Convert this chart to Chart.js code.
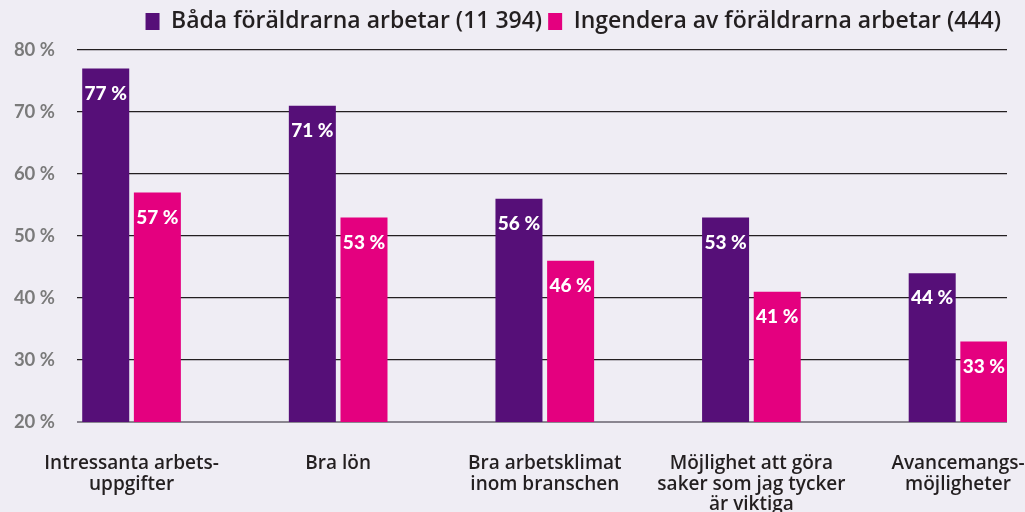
<!DOCTYPE html>
<html>
<head>
<meta charset="utf-8">
<script src="https://cdn.jsdelivr.net/npm/chart.js@4/dist/chart.umd.min.js"></script>
<style>
  html, body { margin: 0; padding: 0; background: #efedf4; }
  canvas { display: block; }
</style>
</head>
<body>
<canvas id="myChart" width="1025" height="512"></canvas>
<script>
// kategorier (x-axel), radbrytningar som i originalet
let categories = [
  ['Intressanta arbets-', 'uppgifter'],
  ['Bra lön'],
  ['Bra arbetsklimat', 'inom branschen'],
  ['Möjlighet att göra', 'saker som jag tycker', 'är viktiga'],
  ['Avancemangs-', 'möjligheter']
];
let seriesNames = ['Båda föräldrarna arbetar (11 394)', 'Ingendera av föräldrarna arbetar (444)'];
let bothWork = [77, 71, 56, 53, 44];
let neitherWork = [57, 53, 46, 41, 33];
let yTicks = [20, 30, 40, 50, 60, 70, 80];

const purple = '#560f78';
const pink = '#e4007f';
const fontFamily = 'Lato, "Open Sans", sans-serif';
const labelFamily = '"Open Sans", Lato, sans-serif';

// bakgrund
const bgPlugin = {
  id: 'bg',
  beforeDraw(chart) {
    const ctx = chart.ctx;
    ctx.save();
    ctx.fillStyle = '#efedf4';
    ctx.fillRect(0, 0, chart.width, chart.height);
    ctx.restore();
  }
};

// lite extra luft under legenden
const legendMargin = {
  id: 'legendMargin',
  beforeInit(chart) {
    const fit = chart.legend.fit;
    chart.legend.fit = function () {
      fit.bind(chart.legend)();
      this.height += 7;
    };
  }
};

// procentetiketter inne i staplarna
const valueLabels = {
  id: 'valueLabels',
  afterDatasetsDraw(chart) {
    const ctx = chart.ctx;
    ctx.save();
    ctx.fillStyle = '#ffffff';
    ctx.font = '900 19px ' + fontFamily;
    ctx.textAlign = 'center';
    ctx.textBaseline = 'middle';
    chart.data.datasets.forEach((ds, i) => {
      chart.getDatasetMeta(i).data.forEach((bar, j) => {
        ctx.fillText(ds.data[j].y + ' %', bar.x, bar.y + 25);
      });
    });
    ctx.restore();
  }
};

function toPoints(values) {
  return values.map((v, i) => ({ x: i, y: v }));
}

const chart = new Chart(document.getElementById('myChart'), {
  type: 'bar',
  data: {
    datasets: [
      {
        label: seriesNames[0],
        data: toPoints(bothWork),
        backgroundColor: purple,
        borderWidth: 0,
        categoryPercentage: 0.5,
        barPercentage: 0.91
      },
      {
        label: seriesNames[1],
        data: toPoints(neitherWork),
        backgroundColor: pink,
        borderWidth: 0,
        categoryPercentage: 0.5,
        barPercentage: 0.91
      }
    ]
  },
  options: {
    responsive: false,
    animation: false,
    layout: { padding: { left: 0, right: 18, top: 4, bottom: 0 } },
    plugins: {
      tooltip: { enabled: false },
      legend: {
        position: 'top',
        align: 'end',
        labels: {
          boxWidth: 14,
          boxHeight: 17,
          padding: 6,
          color: '#231f20',
          font: { family: labelFamily, size: 23, weight: '600' }
        }
      }
    },
    scales: {
      x: {
        type: 'linear',
        offset: false,
        min: -0.264,
        max: 4.237,
        grid: { display: false, offset: false },
        border: { display: false },
        afterBuildTicks: (scale) => {
          scale.ticks = categories.map((_, i) => ({ value: i }));
        },
        afterFit: (scale) => {
          scale.height = 90;
          scale.paddingLeft = 0;
          scale.paddingRight = 0;
        },
        ticks: {
          autoSkip: false,
          maxRotation: 0,
          padding: 24,
          color: '#231f20',
          font: { family: labelFamily, size: 19, weight: '600', lineHeight: 1.06 },
          callback: (value) => categories[value]
        }
      },
      y: {
        min: 20,
        max: 80,
        afterBuildTicks: (scale) => {
          scale.ticks = yTicks.map(v => ({ value: v }));
        },
        afterFit: (scale) => { scale.width = 77; },
        border: { display: false },
        grid: {
          drawTicks: false,
          color: (ctx) => ctx.tick && ctx.tick.value === 20 ? '#8a8690' : '#231f20',
          lineWidth: (ctx) => ctx.tick && ctx.tick.value === 20 ? 2 : 1.3
        },
        ticks: {
          padding: 22,
          color: '#7a7a7a',
          font: { family: fontFamily, size: 18.5, weight: 'bold' },
          callback: (value) => value + ' %'
        }
      }
    }
  },
  plugins: [bgPlugin, legendMargin, valueLabels]
});
</script>
</body>
</html>
